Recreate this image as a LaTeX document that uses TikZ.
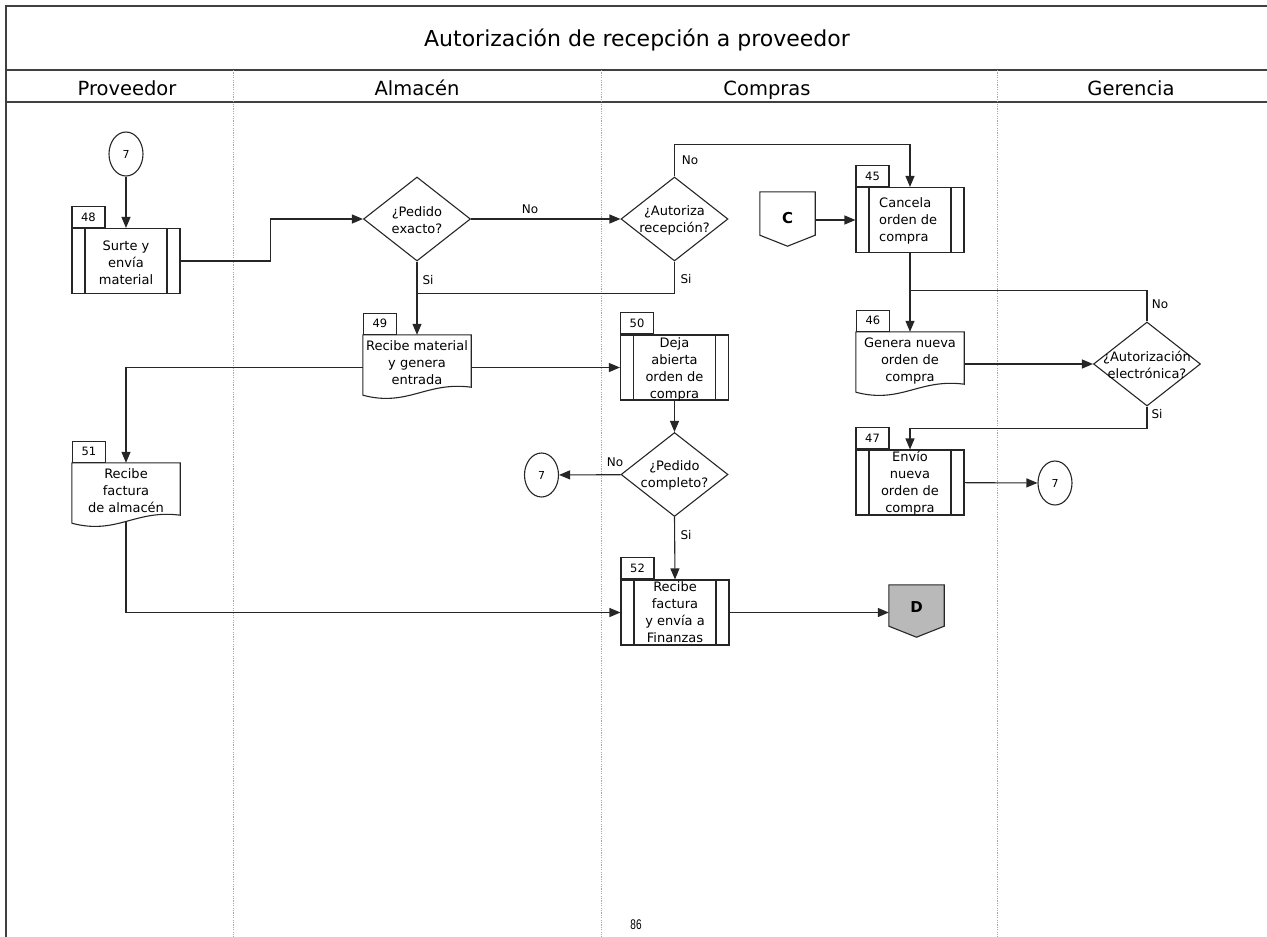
\documentclass[tikz,border=0pt]{standalone}
\usepackage{fontspec}
\setmainfont{DejaVu Sans}
\newfontfamily\pgnumfont{Liberation Sans}[FakeStretch=0.72]
\usetikzlibrary{shapes.geometric,arrows.meta,calc}
\newcommand\docshape[1]{\draw[ln] (#1.south west) -- (#1.north west) -- (#1.north east) -- ([yshift=8pt]#1.south east) .. controls +(-45pt,6pt) and +(45pt,-12pt) .. (#1.south west);}
\newcommand\offshape[2]{\draw[ln,fill=#2] (#1.north west) -- (#1.north east) -- ([yshift=11pt]#1.south east) -- (#1.south) -- ([yshift=11pt]#1.south west) -- cycle;}
\begin{document}
\begin{tikzpicture}[x=1pt,y=-1pt,
  ln/.style={draw=black!85, line width=1.1pt},
  frame/.style={draw=black!75, line width=1.3pt},
  lane/.style={draw=gray!70, line width=0.7pt, dash pattern=on 1.2pt off 1.2pt},
  arr/.style={ln, -{Triangle[length=11pt,width=9pt]}},
  procbox/.style={ln, rectangle, minimum width=108pt, minimum height=65pt, inner sep=0pt,
    path picture={\draw[black!85,line width=1.1pt]
      ([xshift=13pt]path picture bounding box.north west) -- ([xshift=13pt]path picture bounding box.south west)
      ([xshift=-13pt]path picture bounding box.north east) -- ([xshift=-13pt]path picture bounding box.south east);}},
  docbox/.style={rectangle, minimum width=108pt, minimum height=60pt, inner sep=0pt},
  tabbox/.style={ln, rectangle, minimum width=33pt, minimum height=21pt, inner sep=0pt, anchor=south west, font=\fontsize{11.5}{13}\selectfont},
  conn/.style={ln, ellipse, minimum width=34pt, minimum height=44pt, inner sep=0pt, font=\fontsize{11}{13}\selectfont},
  dia/.style={ln, diamond, minimum width=107pt, minimum height=84pt, inner sep=0pt},
  offp/.style={rectangle, minimum width=55pt, inner sep=0pt},
  offtxt/.style={font=\fontsize{15}{18}\selectfont\bfseries, inner sep=0pt},
  txt/.style={align=center, font=\fontsize{13}{17}\selectfont, inner sep=0pt},
  lbl/.style={font=\fontsize{12}{14}\selectfont, inner sep=0pt},
  hdr/.style={font=\fontsize{19.5}{23}\selectfont, inner sep=0pt, anchor=base}
]
\useasboundingbox (0,0) rectangle (1267,937);
% frame and lanes
\draw[frame] (6,937) -- (6,6) -- (1267,6);
\draw[frame] (6,70) -- (1267,70);
\draw[frame] (6,102) -- (1267,102);
\foreach \x in {233,601,997} \draw[lane] (\x,70) -- (\x,937);
\node[font=\fontsize{22}{26}\selectfont, inner sep=0pt, anchor=base] (title) at (637,46) {Autorización de recepción a proveedor};
\node[hdr] (hprov) at (127,95) {Proveedor};
\node[hdr] (halm) at (417,95) {Almacén};
\node[hdr] (hcom) at (767,95) {Compras};
\node[hdr] (hger) at (1131,95) {Gerencia};

% Proveedor
\node[conn] (c7a) at (126,154) {7};
\node[procbox] (b48) at (126,261) {};
\node[tabbox] (t48) at (b48.north west) {48};
\node[txt] (b48t) at (126,263) {Surte y\\envía\\material};

\node[docbox] (b51) at (126,493) {};
\docshape{b51}
\node[tabbox] (t51) at (b51.north west) {51};
\node[txt] (b51t) at (126,491) {Recibe\\factura\\de almacén};

% Almacen
\node[dia] (d1) at (417,219) {};
\node[txt] (d1t) at (417,220) {¿Pedido\\exacto?};
\node[docbox] (b49) at (417,365) {};
\docshape{b49}
\node[tabbox] (t49) at (b49.north west) {49};
\node[txt] (b49t) at (417,363) {Recibe material\\y genera\\entrada};

% Compras
\node[dia] (d2) at (674.5,219) {};
\node[txt] (d2t) at (674.5,220) {¿Autoriza\\recepción?};
\node[offp, minimum height=54pt] (C) at (787.5,219) {};
\offshape{C}{white}
\node[offtxt] (Ct) at (787.5,218) {C};

\node[procbox] (b50) at (674.5,367.5) {};
\node[tabbox] (t50) at (b50.north west) {50};
\node[txt] (b50t) at (674.5,369) {Deja\\abierta\\orden de\\compra};

\node[dia] (d4) at (674.5,474.5) {};
\node[txt] (d4t) at (674.5,475.5) {¿Pedido\\completo?};
\node[conn] (c7b) at (541.5,475) {7};

\node[procbox] (b52) at (675,612.5) {};
\node[tabbox] (t52) at (b52.north west) {52};
\node[txt] (b52t) at (675,612) {Recibe\\factura\\y envía a\\Finanzas};

\node[offp, minimum height=52pt] (D) at (916.5,611) {};
\offshape{D}{gray!55}
\node[offtxt] (Dt) at (916.5,607) {D};

\node[procbox] (b45) at (910,220) {};
\node[tabbox] (t45) at (b45.north west) {45};
\node[txt, align=left, anchor=west] (b45t) at (879,221) {Cancela\\orden de\\compra};

\node[docbox] (b46) at (910,362) {};
\docshape{b46}
\node[tabbox] (t46) at (b46.north west) {46};
\node[txt] (b46t) at (910,361) {Genera nueva\\orden de\\compra};

\node[procbox] (b47) at (910,482.5) {};
\node[tabbox] (t47) at (b47.north west) {47};
\node[txt] (b47t) at (910,483.5) {Envío\\nueva\\orden de\\compra};
\node[conn] (c7c) at (1055,483) {7};

% Gerencia
\node[dia] (d3) at (1147,364) {};
\node[txt] (d3t) at (1147,365) {¿Autorización\\electrónica?};

% connectors
\draw[arr] (c7a) -- (b48);
\draw[arr] (b48.east) -- ++(90,0) |- (d1.west);
\draw[arr] (d1.east) -- (d2.west);
\draw[arr] (d2.north) -- ++(0,-32) -| (b45.north);
\draw[ln] (d2.south) -- ++(0,32) -| (d1.south);
\draw[arr] (d1.south) -- (b49.north);
\draw[arr] (C.east |- b45.west) -- (b45.west);
\draw[arr] (b45.south) -- (b46.north);
\draw[ln] (d3.north) -- ++(0,-31) -| (b45.south);
\draw[arr] (b46.east |- d3.west) -- (d3.west);
\draw[arr] (d3.south) -- ++(0,22) -| (b47.north);
\draw[arr] (b47) -- (c7c);
\draw[arr] (b50.west -| b49.east) -- (b50.west);
\draw[arr] (b50.west -| b49.west) -| (b51.north);
\draw[arr] (b50) -- (d4);
\draw[arr] (d4) -- (c7b);
\draw[arr] (d4.south) -- (b52.north);
\draw[arr] ([yshift=2pt]b51.south) |- (b52.west);
\draw[arr] (b52.east) -- (b52.east -| D.west);

% labels
\node[lbl] (lno1) at (530,209) {No};
\node[lbl] (lno2) at (690,160) {No};
\node[lbl] (lsi1) at (428,280) {Si};
\node[lbl] (lsi2) at (686,279) {Si};
\node[lbl] (lno3) at (1160,304) {No};
\node[lbl] (lsi3) at (1157,414) {Si};
\node[lbl] (lno4) at (615,462) {No};
\node[lbl] (lsi4) at (686,535) {Si};

\node[font=\pgnumfont\fontsize{14}{16}\selectfont, inner sep=0pt] (pg) at (636,925) {86};
\end{tikzpicture}
\end{document}
